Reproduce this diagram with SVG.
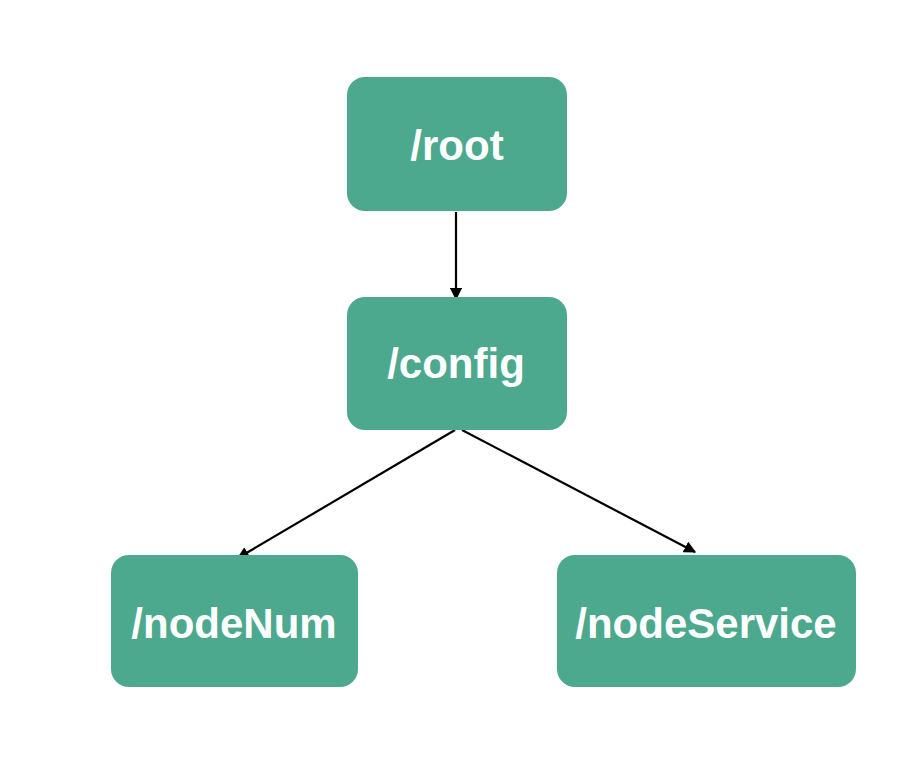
<svg xmlns="http://www.w3.org/2000/svg" width="908" height="782" viewBox="0 0 908 782">
<style>
.box{fill:#4ca98e;}
.lbl{fill:#ffffff;font-family:"Liberation Sans",Arial,sans-serif;font-weight:bold;font-size:42px;text-anchor:middle;}
.edge{stroke:#000;stroke-width:2.2;fill:none;marker-end:url(#ah);}
</style>
<defs>
<marker id="ah" viewBox="0 0 10 10" refX="9" refY="5" markerWidth="5.5" markerHeight="5.5" orient="auto" markerUnits="strokeWidth">
<path d="M0,0 L10,5 L0,10 Z" fill="#000"/>
</marker>
</defs>
<rect width="908" height="782" fill="#fff"/>
<g id="edges">
<line class="edge" x1="456" y1="212" x2="456" y2="299"/>
<line class="edge" x1="455" y1="430" x2="238" y2="558"/>
<line class="edge" x1="462" y1="430" x2="695" y2="552"/>
</g>
<g id="root">
<rect class="box" x="347" y="77" width="220" height="134" rx="18"/>
<text class="lbl" x="457" y="160">/root</text>
</g>
<g id="config">
<rect class="box" x="347" y="297" width="220" height="133" rx="18"/>
<text class="lbl" x="456" y="378">/config</text>
</g>
<g id="nodeNum">
<rect class="box" x="111" y="555" width="247" height="132" rx="18"/>
<text class="lbl" x="234" y="638">/nodeNum</text>
</g>
<g id="nodeService">
<rect class="box" x="557" y="555" width="299" height="132" rx="18"/>
<text class="lbl" x="706" y="638">/nodeService</text>
</g>
</svg>
